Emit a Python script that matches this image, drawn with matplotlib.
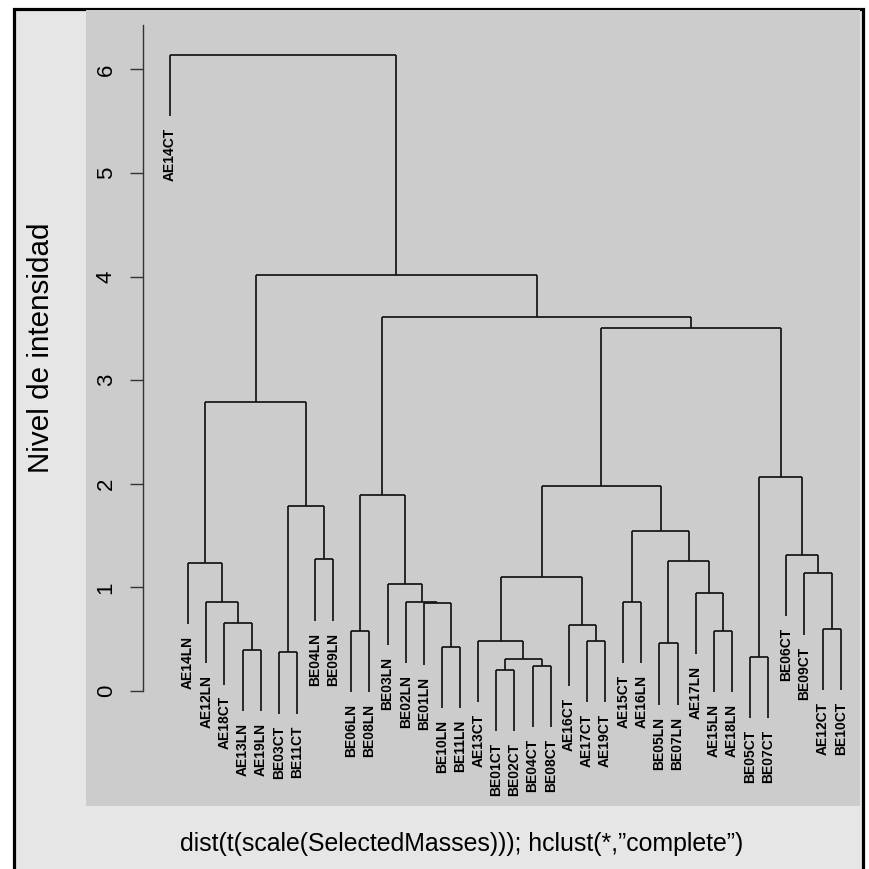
import matplotlib
matplotlib.use("Agg")
import matplotlib.pyplot as plt
from matplotlib.patches import Rectangle
from matplotlib import font_manager

# ---------------- data ----------------
leaf_labels = ["AE14CT", "AE14LN", "AE12LN", "AE18CT", "AE13LN", "AE19LN", "BE03CT", "BE11CT",
               "BE04LN", "BE09LN", "BE06LN", "BE08LN", "BE03LN", "BE02LN", "BE01LN", "BE10LN",
               "BE11LN", "AE13CT", "BE01CT", "BE02CT", "BE04CT", "BE08CT", "AE16CT", "AE17CT",
               "AE19CT", "AE15CT", "AE16LN", "BE05LN", "BE07LN", "AE17LN", "AE15LN", "AE18LN",
               "BE05CT", "BE07CT", "BE06CT", "BE09CT", "AE12CT", "BE10CT"]

# merge k creates node "n{k+1}" joining merge_left[k] and merge_right[k] at merge_height[k]
merge_left = ["BE01CT", "BE04CT", "n1", "BE05CT", "BE03CT", "AE13LN", "BE10LN", "BE05LN",
              "AE17CT", "AE13CT", "BE06LN", "AE15LN", "AE12CT", "AE16CT", "AE18CT", "BE01LN",
              "BE02LN", "AE12LN", "AE15CT", "AE17LN", "BE03LN", "n10", "BE09CT", "AE14LN",
              "n8", "BE04LN", "BE06CT", "n19", "n5", "n11", "n22", "n4", "n24", "n31", "n30",
              "n33", "AE14CT"]
merge_right = ["BE02CT", "BE08CT", "n2", "BE07CT", "BE11CT", "AE19LN", "BE11LN", "BE07LN",
               "AE19CT", "n3", "BE08LN", "AE18LN", "BE10CT", "n9", "n6", "n7",
               "n16", "n15", "AE16LN", "n12", "n17", "n14", "n13", "n18",
               "n20", "BE09LN", "n23", "n25", "n26", "n21", "n28", "n27", "n29", "n32", "n34",
               "n35", "n36"]
merge_height = [0.206, 0.241, 0.312, 0.331, 0.374, 0.396, 0.425, 0.460,
                0.483, 0.486, 0.582, 0.579, 0.601, 0.637, 0.656, 0.846,
                0.862, 0.862, 0.862, 0.949, 1.033, 1.097, 1.136, 1.238,
                1.255, 1.271, 1.313, 1.547, 1.786, 1.889, 1.976, 2.063, 2.787, 3.507, 3.607,
                4.015, 6.139]

y_ticks = [0, 1, 2, 3, 4, 5, 6]
y_label = "Nivel de intensidad"
sub_label = "dist(t(scale(SelectedMasses))); hclust(*,\u201dcomplete\u201d)"

# ---------------- style ----------------
W = H = 869
DPI = 100
HANG = 0.1 * (max(merge_height) - min(merge_height))
LINE_C = "#141414"

names = {f.name for f in font_manager.fontManager.ttflist}
base_font = "Liberation Sans" if "Liberation Sans" in names else "DejaVu Sans"
plt.rcParams["font.family"] = [base_font, "DejaVu Sans"]

fig = plt.figure(figsize=(W / DPI, H / DPI), dpi=DPI, facecolor="white")

# outer framed region
fig.patches.append(Rectangle((13.5 / W, -0.05), (863.0 - 13.5) / W, 1.05 - 8.5 / H,
                             transform=fig.transFigure, facecolor="#e6e6e6",
                             edgecolor="black", linewidth=2.3, zorder=-10))

# plot panel in pixel coordinates: x 86..860, y 10..806
ax = fig.add_axes([86 / W, (H - 806) / H, (860 - 86) / W, (806 - 10) / H])
ax.set_facecolor("#cccccc")

# data scaling: leaf 1 at px 170, leaf 38 at px 840.7; y=0 at px 691, 103.6 px/unit
px_per_leaf = (840.7 - 170.0) / 37
px_per_unit = 103.6
ax.set_xlim(1 - (170 - 86) / px_per_leaf, 38 + (860 - 840.7) / px_per_leaf)
ax.set_ylim(-(806 - 691) / px_per_unit, (691 - 10) / px_per_unit)

pos = {lab: i + 1 for i, lab in enumerate(leaf_labels)}
hgt = {}
parent_h = {}
for k, (a, b, h) in enumerate(zip(merge_left, merge_right, merge_height)):
    name = f"n{k + 1}"
    pos[name] = (pos[a] + pos[b]) / 2.0
    hgt[name] = h
    for c in (a, b):
        if c in hgt:
            ybot = hgt[c]
        else:
            ybot = h - HANG
            parent_h[c] = h
        ax.plot([pos[c], pos[c]], [ybot, h], color=LINE_C, lw=1.25, solid_capstyle="butt")
    ax.plot([pos[a], pos[b]], [h, h], color=LINE_C, lw=1.25, solid_capstyle="butt")

for lab in leaf_labels:
    ax.annotate(lab, (pos[lab], parent_h[lab] - HANG), xytext=(0, -8.5),
                textcoords="offset points", rotation=90, ha="center", va="top",
                fontsize=10.0, fontweight="bold", color="black")

# axes decoration
for s in ["top", "right", "bottom"]:
    ax.spines[s].set_visible(False)
ax.spines["left"].set_position(("data", 1 - (170 - 143) / px_per_leaf))
ax.spines["left"].set_bounds(0, (691 - 25) / px_per_unit)
ax.spines["left"].set_color("#333333")
ax.spines["left"].set_linewidth(1.0)
ax.set_xticks([])
ax.set_yticks(y_ticks)
ax.set_yticklabels([str(t) for t in y_ticks], rotation=90, va="center")
ax.tick_params(axis="y", length=9.4, width=1.0, color="#333333", pad=9.5,
               labelsize=16, labelcolor="black")

fig.text(41 / W, 1 - 347.5 / H, y_label, rotation=90, ha="center", va="center",
         fontsize=21.3, color="black")

fig.text(462 / W, 1 - 843.5 / H, sub_label, ha="center", va="center",
         fontsize=17.9, color="black")

fig.savefig("out.png", dpi=DPI, facecolor="white")
